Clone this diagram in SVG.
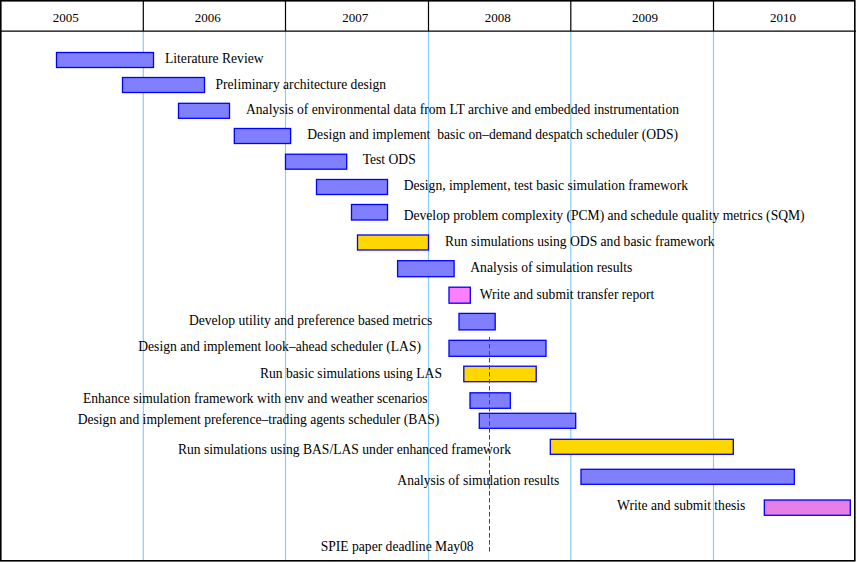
<svg xmlns="http://www.w3.org/2000/svg" width="857" height="562" viewBox="0 0 857 562">
<style>
text{font-family:"Liberation Serif","Times New Roman",serif;font-size:13.6px;fill:#000}
.yr{text-anchor:middle;font-size:13px}
.l{text-anchor:end}
.bar{stroke:#0000ff;stroke-width:1.3}
.b{fill:#8080ff}
.g{fill:#ffd700}
.p{fill:#ff80ff}
.v{fill:#e680e6}
.grid{stroke:#87cefa;stroke-width:1.2}
.sep{stroke:#000;stroke-width:1.2}
</style>
<rect x="0" y="0" width="857" height="562" fill="#fff"/>
<g id="grid">
<line class="grid" x1="143.3" y1="31" x2="143.3" y2="561"/>
<line class="grid" x1="285.5" y1="31" x2="285.5" y2="561"/>
<line class="grid" x1="428.5" y1="31" x2="428.5" y2="561"/>
<line class="grid" x1="570.8" y1="31" x2="570.8" y2="561"/>
<line class="grid" x1="713.5" y1="31" x2="713.5" y2="561"/>
</g>
<g id="header">
<line class="sep" x1="143.3" y1="0" x2="143.3" y2="31"/>
<line class="sep" x1="285.5" y1="0" x2="285.5" y2="31"/>
<line class="sep" x1="428.5" y1="0" x2="428.5" y2="31"/>
<line class="sep" x1="570.8" y1="0" x2="570.8" y2="31"/>
<line class="sep" x1="713.5" y1="0" x2="713.5" y2="31"/>
<line class="sep" x1="0" y1="31.2" x2="856" y2="31.2"/>
<text class="yr" x="65.7" y="21.7">2005</text>
<text class="yr" x="207.7" y="21.7">2006</text>
<text class="yr" x="355.3" y="21.7">2007</text>
<text class="yr" x="497.7" y="21.7">2008</text>
<text class="yr" x="645" y="21.7">2009</text>
<text class="yr" x="783" y="21.7">2010</text>
</g>
<rect x="0.8" y="0.8" width="854" height="560" fill="none" stroke="#000" stroke-width="1.6"/>
<g id="t1"><rect class="bar b" x="56.5" y="52.5" width="97" height="15"/><text x="165" y="63">Literature Review</text></g>
<g id="t2"><rect class="bar b" x="122.5" y="77.5" width="82" height="15"/><text x="215.5" y="88.5">Preliminary architecture design</text></g>
<g id="t3"><rect class="bar b" x="178.5" y="103.3" width="51" height="15"/><text x="246" y="113.5">Analysis of environmental data from LT archive and embedded instrumentation</text></g>
<g id="t4"><rect class="bar b" x="234.3" y="128.5" width="56.3" height="15"/><text x="307.3" y="139" xml:space="preserve">Design and implement  basic on–demand despatch scheduler (ODS)</text></g>
<g id="t5"><rect class="bar b" x="285.5" y="154.2" width="61.2" height="15"/><text x="362.7" y="164">Test ODS</text></g>
<g id="t6"><rect class="bar b" x="316.5" y="179.5" width="71" height="15"/><text x="403.7" y="190">Design, implement, test basic simulation framework</text></g>
<g id="t7"><rect class="bar b" x="351.5" y="204.5" width="36" height="15.5"/><text x="403.7" y="220">Develop problem complexity (PCM) and schedule quality metrics (SQM)</text></g>
<g id="t8"><rect class="bar g" x="357.5" y="235" width="71" height="15"/><text x="445" y="245.7">Run simulations using ODS and basic framework</text></g>
<g id="t9"><rect class="bar b" x="397.6" y="260.7" width="56.5" height="16"/><text x="470.3" y="271.7">Analysis of simulation results</text></g>
<g id="t10"><rect class="bar p" x="449" y="287.2" width="21.3" height="16"/><text x="479.7" y="298.6">Write and submit transfer report</text></g>
<g id="t11"><rect class="bar b" x="459" y="313.4" width="36.2" height="16.5"/><text class="l" x="432.4" y="324.5">Develop utility and preference based metrics</text></g>
<g id="t12"><rect class="bar b" x="449" y="340.3" width="97" height="16"/><text class="l" x="421" y="350.7">Design and implement look–ahead scheduler (LAS)</text></g>
<g id="t13"><rect class="bar g" x="463.8" y="366.2" width="72.4" height="15.5"/><text class="l" x="442" y="377.6">Run basic simulations using LAS</text></g>
<g id="t14"><rect class="bar b" x="470" y="392.8" width="40.3" height="15.5"/><text class="l" x="427.6" y="403">Enhance simulation framework with env and weather scenarios</text></g>
<g id="t15"><rect class="bar b" x="479.3" y="413.3" width="96.4" height="15"/><text class="l" x="439.3" y="424.3">Design and implement preference–trading agents scheduler (BAS)</text></g>
<g id="t16"><rect class="bar g" x="550.3" y="439.3" width="183" height="15"/><text class="l" x="511" y="454">Run simulations using BAS/LAS under enhanced framework</text></g>
<g id="t17"><rect class="bar b" x="581" y="469.3" width="213.3" height="15"/><text class="l" x="559.3" y="485">Analysis of simulation results</text></g>
<g id="t18"><rect class="bar v" x="764.3" y="500" width="86" height="15.3"/><text class="l" x="745.3" y="510">Write and submit thesis</text></g>
<g id="connectors">
<line x1="489.5" y1="337" x2="489.5" y2="552" stroke="#ee0000" stroke-width="1" stroke-dasharray="4.5,2.5"/>
</g>
<g id="milestone"><text x="320.7" y="550.7">SPIE paper deadline May08</text></g>
</svg>
